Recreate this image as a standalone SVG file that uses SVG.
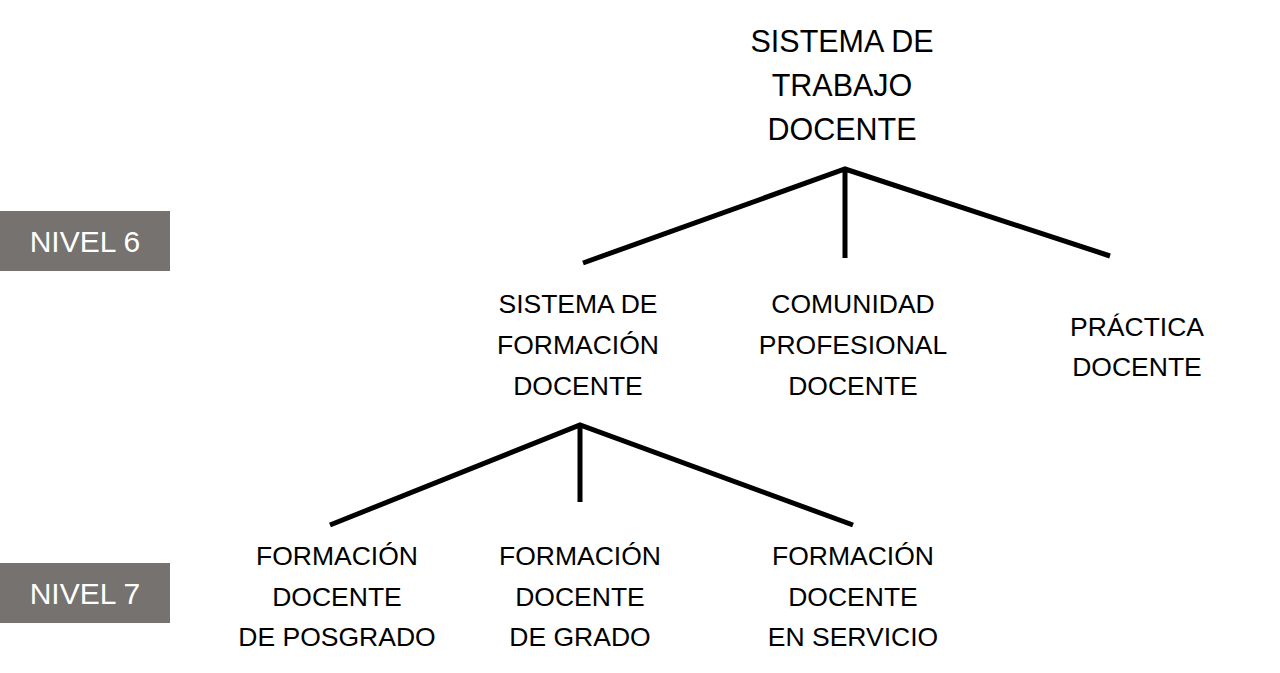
<svg xmlns="http://www.w3.org/2000/svg" width="1280" height="673" viewBox="0 0 1280 673">
<style>
.t{font-family:"Liberation Sans",Arial,sans-serif;fill:#000;text-anchor:middle}
.top{font-size:30.5px}
.n{font-size:26.5px}
.lvl{font-family:"Liberation Sans",Arial,sans-serif;font-size:30px;fill:#fff;text-anchor:middle}
.c{stroke:#000;stroke-width:5;fill:none}
</style>
<rect width="1280" height="673" fill="#fff"/>
<g id="nivel6"><rect x="0" y="211" width="170" height="60" fill="#767270"/><text class="lvl" x="85" y="252">NIVEL 6</text></g>
<g id="nivel7"><rect x="0" y="563" width="170" height="60" fill="#767270"/><text class="lvl" x="85" y="604">NIVEL 7</text></g>
<g id="connectors">
<path class="c" d="M583 263 L845 169 L1110 256 M845 169 L845 258"/>
<path class="c" d="M330 525 L580 425 L853 525 M580 425 L580 502"/>
</g>
<g id="sistema-trabajo"><text class="t top" x="842" y="52">SISTEMA DE</text><text class="t top" x="842" y="96">TRABAJO</text><text class="t top" x="842" y="140">DOCENTE</text></g>
<g id="sistema-formacion"><text class="t n" x="578" y="313">SISTEMA DE</text><text class="t n" x="578" y="354">FORMACIÓN</text><text class="t n" x="578" y="395">DOCENTE</text></g>
<g id="comunidad"><text class="t n" x="853" y="313">COMUNIDAD</text><text class="t n" x="853" y="354">PROFESIONAL</text><text class="t n" x="853" y="395">DOCENTE</text></g>
<g id="practica"><text class="t n" x="1137" y="336">PRÁCTICA</text><text class="t n" x="1137" y="376">DOCENTE</text></g>
<g id="posgrado"><text class="t n" x="337" y="565">FORMACIÓN</text><text class="t n" x="337" y="606">DOCENTE</text><text class="t n" x="337" y="646">DE POSGRADO</text></g>
<g id="grado"><text class="t n" x="580" y="565">FORMACIÓN</text><text class="t n" x="580" y="606">DOCENTE</text><text class="t n" x="580" y="646">DE GRADO</text></g>
<g id="servicio"><text class="t n" x="853" y="565">FORMACIÓN</text><text class="t n" x="853" y="606">DOCENTE</text><text class="t n" x="853" y="646">EN SERVICIO</text></g>
</svg>
